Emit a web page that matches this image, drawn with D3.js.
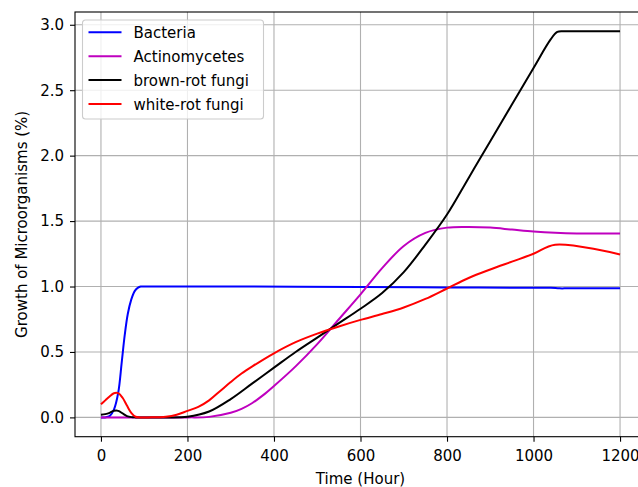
<!DOCTYPE html>
<html>
<head>
<meta charset="utf-8">
<script src="https://cdn.jsdelivr.net/npm/d3@7"></script>
<style>
  body { margin: 0; background: #fff; }
  text { font-family: "DejaVu Sans", sans-serif; }
</style>
</head>
<body>
<div id="chart"></div>
<script>
// data
var xTicks = [0, 200, 400, 600, 800, 1000, 1200];
var yTicks = [0, 0.5, 1.0, 1.5, 2.0, 2.5, 3.0];

var bacteriaT = [0, 10, 20, 30, 40, 48, 55, 62, 70, 78, 85, 92, 100, 120, 300, 600, 800, 1000, 1040, 1060, 1080, 1200];
var bacteriaV = [0, 0, 0.01, 0.06, 0.19, 0.42, 0.63, 0.79, 0.90, 0.965, 0.99, 1.0, 1.0, 1.0, 1.0, 0.997, 0.993, 0.99, 0.99, 0.986, 0.986, 0.986];

var actinoT = [0, 100, 200, 250, 300, 325, 350, 375, 400, 450, 500, 550, 600, 650, 700, 750, 800, 850, 900, 950, 1000, 1050, 1100, 1200];
var actinoV = [0, 0, 0, 0.004, 0.035, 0.065, 0.11, 0.17, 0.24, 0.39, 0.56, 0.75, 0.94, 1.14, 1.31, 1.41, 1.45, 1.455, 1.45, 1.435, 1.42, 1.41, 1.405, 1.405];

var brownT = [0, 10, 20, 30, 40, 50, 60, 70, 80, 100, 150, 200, 250, 300, 350, 400, 450, 500, 550, 600, 650, 700, 750, 800, 850, 900, 950, 1000, 1040, 1055, 1070, 1100, 1200];
var brownV = [0.02, 0.025, 0.035, 0.05, 0.05, 0.03, 0.01, 0.002, 0, 0, 0, 0.005, 0.045, 0.14, 0.26, 0.38, 0.50, 0.61, 0.72, 0.83, 0.95, 1.11, 1.32, 1.55, 1.83, 2.11, 2.39, 2.67, 2.89, 2.945, 2.95, 2.95, 2.95];

var whiteT = [0, 10, 20, 30, 40, 50, 60, 70, 80, 90, 110, 150, 175, 200, 225, 250, 275, 300, 325, 350, 400, 450, 500, 550, 600, 650, 700, 750, 800, 850, 900, 950, 1000, 1050, 1200];
var whiteV = [0.10, 0.13, 0.16, 0.185, 0.185, 0.15, 0.09, 0.035, 0.005, 0, 0, 0.005, 0.02, 0.05, 0.08, 0.13, 0.20, 0.27, 0.335, 0.39, 0.49, 0.575, 0.64, 0.695, 0.745, 0.79, 0.84, 0.905, 0.985, 1.065, 1.13, 1.19, 1.25, 1.32, 1.245];

var seriesNames = ["Bacteria", "Actinomycetes", "brown-rot fungi", "white-rot fungi"];
var seriesColors = ["#0000ff", "#bf00bf", "#000000", "#ff0000"];

function zipSeries(t, v) {
    return t.map(function (d, i) { return { t: d, v: v[i] }; });
}
var series = [
    zipSeries(bacteriaT, bacteriaV),
    zipSeries(actinoT, actinoV),
    zipSeries(brownT, brownV),
    zipSeries(whiteT, whiteV)
];

// plot frame (right spine falls outside the picture)
var plotL = 75, plotR = 646, plotT = 12, plotB = 436.7;

var svg = d3.select("#chart")
    .append("svg")
    .attr("width", 638)
    .attr("height", 487);

var x = d3.scaleLinear().domain([-60, 1260]).range([plotL, plotR]);
var y = d3.scaleLinear().domain([-0.1475, 3.0975]).range([plotB, plotT]);

// grid
svg.append("g").selectAll("line").data(xTicks).enter().append("line")
    .attr("x1", function (d) { return x(d); })
    .attr("x2", function (d) { return x(d); })
    .attr("y1", plotT).attr("y2", plotB)
    .attr("stroke", "#b0b0b0").attr("stroke-width", 1.1);

svg.append("g").selectAll("line").data(yTicks).enter().append("line")
    .attr("x1", plotL).attr("x2", plotR)
    .attr("y1", function (d) { return y(d); })
    .attr("y2", function (d) { return y(d); })
    .attr("stroke", "#b0b0b0").attr("stroke-width", 1.1);

// clip the curves to the axes
svg.append("clipPath").attr("id", "clip")
    .append("rect")
    .attr("x", plotL).attr("y", plotT)
    .attr("width", plotR - plotL).attr("height", plotB - plotT);

var line = d3.line()
    .x(function (d) { return x(d.t); })
    .y(function (d) { return y(d.v); })
    .curve(d3.curveCatmullRom.alpha(0.5));

for (var i = 0; i < series.length; i++) {
    svg.append("path")
        .datum(series[i])
        .attr("clip-path", "url(#clip)")
        .attr("fill", "none")
        .attr("stroke", seriesColors[i])
        .attr("stroke-width", 2)
        .attr("stroke-linejoin", "round")
        .attr("d", line);
}

// axes
var xAxis = svg.append("g")
    .attr("transform", "translate(0," + plotB + ")")
    .call(d3.axisBottom(x).tickValues(xTicks).tickSize(5).tickPadding(9).tickFormat(d3.format("d")));

var yAxis = svg.append("g")
    .attr("transform", "translate(" + plotL + ",0)")
    .call(d3.axisLeft(y).tickValues(yTicks).tickSize(5).tickPadding(6).tickFormat(d3.format(".1f")));

[xAxis, yAxis].forEach(function (a) {
    a.select(".domain").remove();
    a.selectAll("line").attr("stroke", "#000").attr("stroke-width", 1.1);
    a.selectAll("text")
        .attr("font-family", "DejaVu Sans")
        .attr("font-size", "15px")
        .attr("fill", "#000");
});

// spines
svg.append("rect")
    .attr("x", plotL).attr("y", plotT)
    .attr("width", plotR - plotL).attr("height", plotB - plotT)
    .attr("fill", "none")
    .attr("stroke", "#000")
    .attr("stroke-width", 1.1);

// axis labels
svg.append("text")
    .attr("x", (plotL + plotR) / 2)
    .attr("y", 484)
    .attr("font-size", "15px")
    .style("text-anchor", "middle")
    .text("Time (Hour)");

svg.append("text")
    .attr("transform", "translate(27," + ((plotT + plotB) / 2) + ") rotate(-90)")
    .attr("font-size", "15px")
    .style("text-anchor", "middle")
    .text("Growth of Microorganisms (%)");

// legend
var legend = svg.append("g").attr("transform", "translate(82.5,20)");
legend.append("rect")
    .attr("width", 181).attr("height", 99)
    .attr("rx", 3)
    .attr("fill", "#fff").attr("fill-opacity", 0.8)
    .attr("stroke", "#cccccc").attr("stroke-width", 1.1);

var entry = legend.selectAll(".lineLegend").data(seriesNames)
    .enter().append("g")
    .attr("class", "lineLegend")
    .attr("transform", function (d, i) { return "translate(0," + (12.3 + i * 23.9) + ")"; });

entry.append("line")
    .attr("x1", 6).attr("x2", 39)
    .attr("stroke", function (d, i) { return seriesColors[i]; })
    .attr("stroke-width", 2);

entry.append("text")
    .attr("x", 51).attr("y", 5.5)
    .attr("font-size", "15px")
    .text(function (d) { return d; });
</script>
</body>
</html>
